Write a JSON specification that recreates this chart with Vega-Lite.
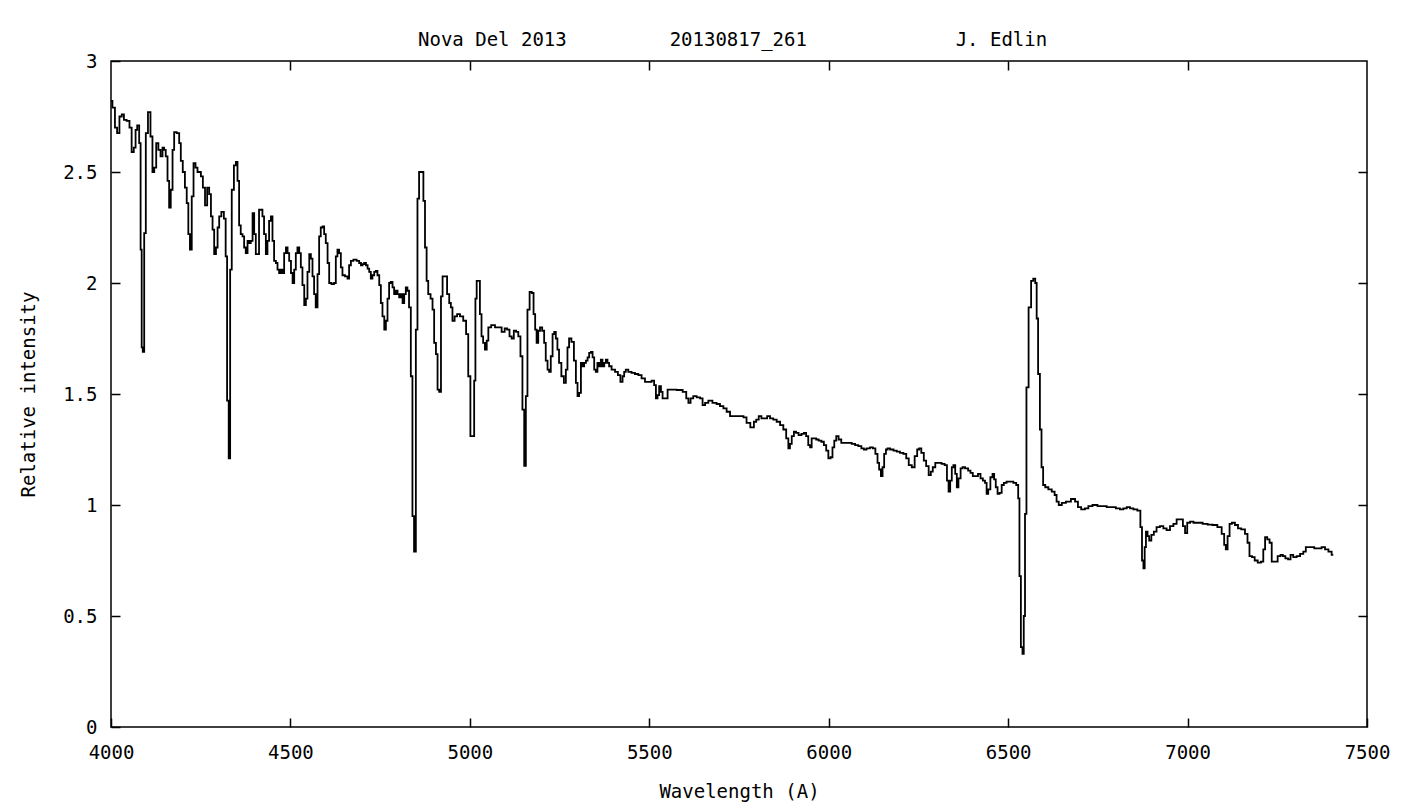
{
  "$schema": "https://vega.github.io/schema/vega-lite/v6.json",
  "width": 1256,
  "height": 666,
  "autosize": {"type": "none"},
  "padding": {"left": 111, "top": 61, "right": 35, "bottom": 81},
  "background": "white",
  "title": {
    "text": "Nova Del 2013\u00a0\u00a0\u00a0\u00a0\u00a0\u00a0\u00a0\u00a0\u00a020130817_261\u00a0\u00a0\u00a0\u00a0\u00a0\u00a0\u00a0\u00a0\u00a0\u00a0\u00a0\u00a0\u00a0J. Edlin",
    "anchor": "start",
    "frame": "group",
    "dx": 307,
    "offset": 2,
    "font": "DejaVu Sans Mono",
    "fontSize": 19,
    "fontWeight": "normal",
    "color": "#000"
  },
  "data": {
    "values": [
      {"wavelength": 4000, "intensity": 2.82}, {"wavelength": 4008, "intensity": 2.79}, {"wavelength": 4014, "intensity": 2.70}, {"wavelength": 4020, "intensity": 2.675},
      {"wavelength": 4027, "intensity": 2.75}, {"wavelength": 4033, "intensity": 2.76}, {"wavelength": 4039, "intensity": 2.735}, {"wavelength": 4048, "intensity": 2.73},
      {"wavelength": 4055, "intensity": 2.70}, {"wavelength": 4060, "intensity": 2.59}, {"wavelength": 4067, "intensity": 2.61}, {"wavelength": 4070, "intensity": 2.69},
      {"wavelength": 4076, "intensity": 2.71}, {"wavelength": 4081, "intensity": 2.63}, {"wavelength": 4084, "intensity": 2.15}, {"wavelength": 4087, "intensity": 1.71},
      {"wavelength": 4090, "intensity": 1.69}, {"wavelength": 4095, "intensity": 2.225}, {"wavelength": 4099, "intensity": 2.675}, {"wavelength": 4107, "intensity": 2.77},
      {"wavelength": 4113, "intensity": 2.66}, {"wavelength": 4118, "intensity": 2.50}, {"wavelength": 4123, "intensity": 2.52}, {"wavelength": 4129, "intensity": 2.63},
      {"wavelength": 4135, "intensity": 2.60}, {"wavelength": 4141, "intensity": 2.57}, {"wavelength": 4146, "intensity": 2.61}, {"wavelength": 4150, "intensity": 2.60},
      {"wavelength": 4155, "intensity": 2.57}, {"wavelength": 4160, "intensity": 2.46}, {"wavelength": 4164, "intensity": 2.34}, {"wavelength": 4169, "intensity": 2.42},
      {"wavelength": 4174, "intensity": 2.60}, {"wavelength": 4178, "intensity": 2.68}, {"wavelength": 4188, "intensity": 2.675}, {"wavelength": 4192, "intensity": 2.63},
      {"wavelength": 4197, "intensity": 2.55}, {"wavelength": 4203, "intensity": 2.50}, {"wavelength": 4209, "intensity": 2.43}, {"wavelength": 4213, "intensity": 2.36},
      {"wavelength": 4218, "intensity": 2.22}, {"wavelength": 4222, "intensity": 2.15}, {"wavelength": 4228, "intensity": 2.39}, {"wavelength": 4232, "intensity": 2.54},
      {"wavelength": 4239, "intensity": 2.52}, {"wavelength": 4243, "intensity": 2.50}, {"wavelength": 4248, "intensity": 2.50}, {"wavelength": 4253, "intensity": 2.48},
      {"wavelength": 4259, "intensity": 2.43}, {"wavelength": 4265, "intensity": 2.35}, {"wavelength": 4271, "intensity": 2.43}, {"wavelength": 4276, "intensity": 2.40},
      {"wavelength": 4281, "intensity": 2.30}, {"wavelength": 4285, "intensity": 2.24}, {"wavelength": 4290, "intensity": 2.13}, {"wavelength": 4295, "intensity": 2.16},
      {"wavelength": 4299, "intensity": 2.25}, {"wavelength": 4304, "intensity": 2.30}, {"wavelength": 4311, "intensity": 2.32}, {"wavelength": 4318, "intensity": 2.29},
      {"wavelength": 4321, "intensity": 2.12}, {"wavelength": 4326, "intensity": 1.47}, {"wavelength": 4330, "intensity": 1.21}, {"wavelength": 4334, "intensity": 2.06},
      {"wavelength": 4339, "intensity": 2.42}, {"wavelength": 4346, "intensity": 2.53}, {"wavelength": 4350, "intensity": 2.546}, {"wavelength": 4355, "intensity": 2.46},
      {"wavelength": 4359, "intensity": 2.26}, {"wavelength": 4364, "intensity": 2.22}, {"wavelength": 4369, "intensity": 2.21}, {"wavelength": 4373, "intensity": 2.16},
      {"wavelength": 4378, "intensity": 2.135}, {"wavelength": 4383, "intensity": 2.19}, {"wavelength": 4387, "intensity": 2.18}, {"wavelength": 4392, "intensity": 2.19},
      {"wavelength": 4397, "intensity": 2.315}, {"wavelength": 4401, "intensity": 2.22}, {"wavelength": 4406, "intensity": 2.13}, {"wavelength": 4410, "intensity": 2.13},
      {"wavelength": 4415, "intensity": 2.33}, {"wavelength": 4420, "intensity": 2.33}, {"wavelength": 4424, "intensity": 2.30}, {"wavelength": 4429, "intensity": 2.22},
      {"wavelength": 4434, "intensity": 2.13}, {"wavelength": 4438, "intensity": 2.19}, {"wavelength": 4443, "intensity": 2.28}, {"wavelength": 4448, "intensity": 2.30},
      {"wavelength": 4452, "intensity": 2.19}, {"wavelength": 4457, "intensity": 2.10}, {"wavelength": 4462, "intensity": 2.09}, {"wavelength": 4466, "intensity": 2.06},
      {"wavelength": 4471, "intensity": 2.045}, {"wavelength": 4476, "intensity": 2.06}, {"wavelength": 4480, "intensity": 2.045}, {"wavelength": 4485, "intensity": 2.135},
      {"wavelength": 4490, "intensity": 2.16}, {"wavelength": 4494, "intensity": 2.135}, {"wavelength": 4499, "intensity": 2.10}, {"wavelength": 4504, "intensity": 2.045},
      {"wavelength": 4508, "intensity": 2.00}, {"wavelength": 4513, "intensity": 2.06}, {"wavelength": 4517, "intensity": 2.135}, {"wavelength": 4522, "intensity": 2.16},
      {"wavelength": 4527, "intensity": 2.135}, {"wavelength": 4531, "intensity": 2.07}, {"wavelength": 4536, "intensity": 1.99}, {"wavelength": 4541, "intensity": 1.90},
      {"wavelength": 4545, "intensity": 1.93}, {"wavelength": 4550, "intensity": 2.05}, {"wavelength": 4555, "intensity": 2.13}, {"wavelength": 4559, "intensity": 2.11},
      {"wavelength": 4564, "intensity": 2.03}, {"wavelength": 4568, "intensity": 1.95}, {"wavelength": 4573, "intensity": 1.89}, {"wavelength": 4578, "intensity": 2.04},
      {"wavelength": 4582, "intensity": 2.21}, {"wavelength": 4587, "intensity": 2.25}, {"wavelength": 4592, "intensity": 2.255}, {"wavelength": 4596, "intensity": 2.22},
      {"wavelength": 4601, "intensity": 2.18}, {"wavelength": 4606, "intensity": 2.09}, {"wavelength": 4610, "intensity": 2.00}, {"wavelength": 4619, "intensity": 1.995},
      {"wavelength": 4624, "intensity": 2.00}, {"wavelength": 4629, "intensity": 2.12}, {"wavelength": 4633, "intensity": 2.15}, {"wavelength": 4638, "intensity": 2.135},
      {"wavelength": 4643, "intensity": 2.07}, {"wavelength": 4647, "intensity": 2.035}, {"wavelength": 4657, "intensity": 2.03}, {"wavelength": 4661, "intensity": 2.02},
      {"wavelength": 4666, "intensity": 2.08}, {"wavelength": 4671, "intensity": 2.10}, {"wavelength": 4680, "intensity": 2.105}, {"wavelength": 4689, "intensity": 2.10},
      {"wavelength": 4694, "intensity": 2.09}, {"wavelength": 4699, "intensity": 2.08}, {"wavelength": 4703, "intensity": 2.085}, {"wavelength": 4708, "intensity": 2.09},
      {"wavelength": 4713, "intensity": 2.08}, {"wavelength": 4717, "intensity": 2.065}, {"wavelength": 4722, "intensity": 2.05}, {"wavelength": 4726, "intensity": 2.02},
      {"wavelength": 4731, "intensity": 2.035}, {"wavelength": 4736, "intensity": 2.05}, {"wavelength": 4740, "intensity": 2.055}, {"wavelength": 4745, "intensity": 2.035},
      {"wavelength": 4750, "intensity": 1.99}, {"wavelength": 4754, "intensity": 1.91}, {"wavelength": 4759, "intensity": 1.85}, {"wavelength": 4764, "intensity": 1.79},
      {"wavelength": 4768, "intensity": 1.83}, {"wavelength": 4773, "intensity": 1.93}, {"wavelength": 4777, "intensity": 2.00}, {"wavelength": 4782, "intensity": 2.005},
      {"wavelength": 4787, "intensity": 1.98}, {"wavelength": 4791, "intensity": 1.95}, {"wavelength": 4796, "intensity": 1.965}, {"wavelength": 4801, "intensity": 1.95},
      {"wavelength": 4805, "intensity": 1.935}, {"wavelength": 4810, "intensity": 1.95}, {"wavelength": 4815, "intensity": 1.91}, {"wavelength": 4819, "intensity": 1.95},
      {"wavelength": 4824, "intensity": 1.98}, {"wavelength": 4828, "intensity": 1.965}, {"wavelength": 4833, "intensity": 1.89}, {"wavelength": 4838, "intensity": 1.58},
      {"wavelength": 4842, "intensity": 0.95}, {"wavelength": 4847, "intensity": 0.79}, {"wavelength": 4852, "intensity": 1.79}, {"wavelength": 4856, "intensity": 2.38},
      {"wavelength": 4861, "intensity": 2.50}, {"wavelength": 4869, "intensity": 2.50}, {"wavelength": 4872, "intensity": 2.37}, {"wavelength": 4878, "intensity": 2.16},
      {"wavelength": 4881, "intensity": 2.01}, {"wavelength": 4887, "intensity": 1.95}, {"wavelength": 4894, "intensity": 1.93}, {"wavelength": 4898, "intensity": 1.88},
      {"wavelength": 4903, "intensity": 1.73}, {"wavelength": 4908, "intensity": 1.68}, {"wavelength": 4912, "intensity": 1.52}, {"wavelength": 4917, "intensity": 1.51},
      {"wavelength": 4922, "intensity": 1.94}, {"wavelength": 4926, "intensity": 2.03}, {"wavelength": 4933, "intensity": 2.03}, {"wavelength": 4940, "intensity": 1.95},
      {"wavelength": 4945, "intensity": 1.91}, {"wavelength": 4949, "intensity": 1.89}, {"wavelength": 4954, "intensity": 1.83}, {"wavelength": 4961, "intensity": 1.85},
      {"wavelength": 4968, "intensity": 1.86}, {"wavelength": 4977, "intensity": 1.85}, {"wavelength": 4986, "intensity": 1.83}, {"wavelength": 4993, "intensity": 1.77},
      {"wavelength": 4998, "intensity": 1.58}, {"wavelength": 5005, "intensity": 1.31}, {"wavelength": 5010, "intensity": 1.31}, {"wavelength": 5014, "intensity": 1.56},
      {"wavelength": 5017, "intensity": 1.93}, {"wavelength": 5021, "intensity": 2.01}, {"wavelength": 5026, "intensity": 2.01}, {"wavelength": 5030, "intensity": 1.86},
      {"wavelength": 5035, "intensity": 1.76}, {"wavelength": 5039, "intensity": 1.73}, {"wavelength": 5045, "intensity": 1.70}, {"wavelength": 5049, "intensity": 1.74},
      {"wavelength": 5054, "intensity": 1.80}, {"wavelength": 5065, "intensity": 1.81}, {"wavelength": 5075, "intensity": 1.80}, {"wavelength": 5084, "intensity": 1.80},
      {"wavelength": 5093, "intensity": 1.78}, {"wavelength": 5101, "intensity": 1.795}, {"wavelength": 5107, "intensity": 1.79}, {"wavelength": 5114, "intensity": 1.76},
      {"wavelength": 5119, "intensity": 1.75}, {"wavelength": 5126, "intensity": 1.785}, {"wavelength": 5132, "intensity": 1.78}, {"wavelength": 5138, "intensity": 1.76},
      {"wavelength": 5144, "intensity": 1.67}, {"wavelength": 5149, "intensity": 1.43}, {"wavelength": 5154, "intensity": 1.176}, {"wavelength": 5158, "intensity": 1.49},
      {"wavelength": 5163, "intensity": 1.88}, {"wavelength": 5170, "intensity": 1.96}, {"wavelength": 5175, "intensity": 1.955}, {"wavelength": 5180, "intensity": 1.86},
      {"wavelength": 5184, "intensity": 1.79}, {"wavelength": 5188, "intensity": 1.73}, {"wavelength": 5193, "intensity": 1.785}, {"wavelength": 5198, "intensity": 1.80},
      {"wavelength": 5205, "intensity": 1.785}, {"wavelength": 5209, "intensity": 1.73}, {"wavelength": 5214, "intensity": 1.65}, {"wavelength": 5219, "intensity": 1.61},
      {"wavelength": 5223, "intensity": 1.60}, {"wavelength": 5228, "intensity": 1.67}, {"wavelength": 5233, "intensity": 1.77}, {"wavelength": 5237, "intensity": 1.78},
      {"wavelength": 5242, "intensity": 1.75}, {"wavelength": 5246, "intensity": 1.70}, {"wavelength": 5251, "intensity": 1.64}, {"wavelength": 5259, "intensity": 1.58},
      {"wavelength": 5265, "intensity": 1.55}, {"wavelength": 5270, "intensity": 1.61}, {"wavelength": 5274, "intensity": 1.71}, {"wavelength": 5279, "intensity": 1.75},
      {"wavelength": 5287, "intensity": 1.735}, {"wavelength": 5293, "intensity": 1.65}, {"wavelength": 5298, "intensity": 1.55}, {"wavelength": 5302, "intensity": 1.49},
      {"wavelength": 5307, "intensity": 1.505}, {"wavelength": 5312, "intensity": 1.64}, {"wavelength": 5316, "intensity": 1.625}, {"wavelength": 5321, "intensity": 1.64},
      {"wavelength": 5326, "intensity": 1.65}, {"wavelength": 5330, "intensity": 1.665}, {"wavelength": 5335, "intensity": 1.685}, {"wavelength": 5340, "intensity": 1.69},
      {"wavelength": 5344, "intensity": 1.665}, {"wavelength": 5349, "intensity": 1.61}, {"wavelength": 5353, "intensity": 1.60}, {"wavelength": 5358, "intensity": 1.64},
      {"wavelength": 5363, "intensity": 1.625}, {"wavelength": 5367, "intensity": 1.655}, {"wavelength": 5372, "intensity": 1.625}, {"wavelength": 5377, "intensity": 1.64},
      {"wavelength": 5381, "intensity": 1.655}, {"wavelength": 5386, "intensity": 1.64}, {"wavelength": 5390, "intensity": 1.625}, {"wavelength": 5400, "intensity": 1.61},
      {"wavelength": 5409, "intensity": 1.60}, {"wavelength": 5416, "intensity": 1.585}, {"wavelength": 5423, "intensity": 1.555}, {"wavelength": 5428, "intensity": 1.58},
      {"wavelength": 5432, "intensity": 1.60}, {"wavelength": 5437, "intensity": 1.61}, {"wavelength": 5446, "intensity": 1.60}, {"wavelength": 5455, "intensity": 1.595},
      {"wavelength": 5465, "intensity": 1.59}, {"wavelength": 5474, "intensity": 1.585}, {"wavelength": 5483, "intensity": 1.57}, {"wavelength": 5493, "intensity": 1.555},
      {"wavelength": 5502, "intensity": 1.555}, {"wavelength": 5511, "intensity": 1.56}, {"wavelength": 5516, "intensity": 1.54}, {"wavelength": 5521, "intensity": 1.48},
      {"wavelength": 5525, "intensity": 1.495}, {"wavelength": 5530, "intensity": 1.535}, {"wavelength": 5535, "intensity": 1.51}, {"wavelength": 5539, "intensity": 1.48},
      {"wavelength": 5544, "intensity": 1.48}, {"wavelength": 5558, "intensity": 1.52}, {"wavelength": 5567, "intensity": 1.52}, {"wavelength": 5586, "intensity": 1.518},
      {"wavelength": 5600, "intensity": 1.51}, {"wavelength": 5606, "intensity": 1.48}, {"wavelength": 5612, "intensity": 1.46}, {"wavelength": 5618, "intensity": 1.48},
      {"wavelength": 5627, "intensity": 1.49}, {"wavelength": 5637, "intensity": 1.485}, {"wavelength": 5646, "intensity": 1.48}, {"wavelength": 5651, "intensity": 1.45},
      {"wavelength": 5660, "intensity": 1.46}, {"wavelength": 5669, "intensity": 1.47}, {"wavelength": 5683, "intensity": 1.46}, {"wavelength": 5692, "intensity": 1.455},
      {"wavelength": 5702, "intensity": 1.445}, {"wavelength": 5711, "intensity": 1.435}, {"wavelength": 5720, "intensity": 1.42}, {"wavelength": 5730, "intensity": 1.40},
      {"wavelength": 5739, "intensity": 1.40}, {"wavelength": 5758, "intensity": 1.40}, {"wavelength": 5767, "intensity": 1.395}, {"wavelength": 5775, "intensity": 1.37},
      {"wavelength": 5788, "intensity": 1.35}, {"wavelength": 5795, "intensity": 1.375}, {"wavelength": 5801, "intensity": 1.385}, {"wavelength": 5809, "intensity": 1.40},
      {"wavelength": 5816, "intensity": 1.39}, {"wavelength": 5825, "intensity": 1.39}, {"wavelength": 5832, "intensity": 1.40}, {"wavelength": 5841, "intensity": 1.39},
      {"wavelength": 5850, "intensity": 1.385}, {"wavelength": 5860, "intensity": 1.375}, {"wavelength": 5869, "intensity": 1.36}, {"wavelength": 5878, "intensity": 1.34},
      {"wavelength": 5885, "intensity": 1.30}, {"wavelength": 5890, "intensity": 1.255}, {"wavelength": 5894, "intensity": 1.275}, {"wavelength": 5900, "intensity": 1.31},
      {"wavelength": 5906, "intensity": 1.33}, {"wavelength": 5912, "intensity": 1.325}, {"wavelength": 5920, "intensity": 1.315}, {"wavelength": 5928, "intensity": 1.32},
      {"wavelength": 5934, "intensity": 1.325}, {"wavelength": 5940, "intensity": 1.31}, {"wavelength": 5946, "intensity": 1.27}, {"wavelength": 5950, "intensity": 1.26},
      {"wavelength": 5955, "intensity": 1.30}, {"wavelength": 5962, "intensity": 1.30}, {"wavelength": 5968, "intensity": 1.295}, {"wavelength": 5976, "intensity": 1.29},
      {"wavelength": 5983, "intensity": 1.285}, {"wavelength": 5990, "intensity": 1.27}, {"wavelength": 5996, "intensity": 1.245}, {"wavelength": 6002, "intensity": 1.21},
      {"wavelength": 6008, "intensity": 1.215}, {"wavelength": 6013, "intensity": 1.26}, {"wavelength": 6018, "intensity": 1.29}, {"wavelength": 6024, "intensity": 1.31},
      {"wavelength": 6031, "intensity": 1.295}, {"wavelength": 6039, "intensity": 1.28}, {"wavelength": 6048, "intensity": 1.28}, {"wavelength": 6059, "intensity": 1.28},
      {"wavelength": 6069, "intensity": 1.275}, {"wavelength": 6078, "intensity": 1.27}, {"wavelength": 6087, "intensity": 1.265}, {"wavelength": 6095, "intensity": 1.255},
      {"wavelength": 6101, "intensity": 1.25}, {"wavelength": 6110, "intensity": 1.255}, {"wavelength": 6120, "intensity": 1.26}, {"wavelength": 6126, "intensity": 1.255},
      {"wavelength": 6134, "intensity": 1.23}, {"wavelength": 6138, "intensity": 1.19}, {"wavelength": 6143, "intensity": 1.16}, {"wavelength": 6148, "intensity": 1.13},
      {"wavelength": 6152, "intensity": 1.17}, {"wavelength": 6157, "intensity": 1.23}, {"wavelength": 6162, "intensity": 1.25}, {"wavelength": 6166, "intensity": 1.255},
      {"wavelength": 6176, "intensity": 1.25}, {"wavelength": 6185, "intensity": 1.245}, {"wavelength": 6194, "intensity": 1.24}, {"wavelength": 6203, "intensity": 1.235},
      {"wavelength": 6213, "intensity": 1.23}, {"wavelength": 6219, "intensity": 1.21}, {"wavelength": 6227, "intensity": 1.18}, {"wavelength": 6236, "intensity": 1.17},
      {"wavelength": 6243, "intensity": 1.22}, {"wavelength": 6250, "intensity": 1.25}, {"wavelength": 6254, "intensity": 1.255}, {"wavelength": 6262, "intensity": 1.235},
      {"wavelength": 6268, "intensity": 1.20}, {"wavelength": 6275, "intensity": 1.175}, {"wavelength": 6282, "intensity": 1.135}, {"wavelength": 6287, "intensity": 1.15},
      {"wavelength": 6293, "intensity": 1.17}, {"wavelength": 6301, "intensity": 1.19}, {"wavelength": 6310, "intensity": 1.19}, {"wavelength": 6319, "intensity": 1.185},
      {"wavelength": 6327, "intensity": 1.18}, {"wavelength": 6332, "intensity": 1.11}, {"wavelength": 6336, "intensity": 1.06}, {"wavelength": 6341, "intensity": 1.11},
      {"wavelength": 6345, "intensity": 1.17}, {"wavelength": 6350, "intensity": 1.18}, {"wavelength": 6355, "intensity": 1.14}, {"wavelength": 6359, "intensity": 1.08},
      {"wavelength": 6364, "intensity": 1.12}, {"wavelength": 6371, "intensity": 1.165}, {"wavelength": 6375, "intensity": 1.17}, {"wavelength": 6385, "intensity": 1.165},
      {"wavelength": 6392, "intensity": 1.155}, {"wavelength": 6398, "intensity": 1.145}, {"wavelength": 6405, "intensity": 1.13}, {"wavelength": 6412, "intensity": 1.13},
      {"wavelength": 6420, "intensity": 1.14}, {"wavelength": 6426, "intensity": 1.12}, {"wavelength": 6433, "intensity": 1.11}, {"wavelength": 6438, "intensity": 1.10},
      {"wavelength": 6442, "intensity": 1.05}, {"wavelength": 6447, "intensity": 1.07}, {"wavelength": 6454, "intensity": 1.125}, {"wavelength": 6459, "intensity": 1.14},
      {"wavelength": 6463, "intensity": 1.115}, {"wavelength": 6468, "intensity": 1.08}, {"wavelength": 6473, "intensity": 1.05}, {"wavelength": 6479, "intensity": 1.055},
      {"wavelength": 6485, "intensity": 1.09}, {"wavelength": 6491, "intensity": 1.10}, {"wavelength": 6500, "intensity": 1.105}, {"wavelength": 6510, "intensity": 1.105},
      {"wavelength": 6519, "intensity": 1.10}, {"wavelength": 6526, "intensity": 1.09}, {"wavelength": 6530, "intensity": 1.03}, {"wavelength": 6533, "intensity": 0.68},
      {"wavelength": 6538, "intensity": 0.36}, {"wavelength": 6542, "intensity": 0.33}, {"wavelength": 6545, "intensity": 0.50}, {"wavelength": 6549, "intensity": 0.96},
      {"wavelength": 6553, "intensity": 1.53}, {"wavelength": 6561, "intensity": 1.89}, {"wavelength": 6567, "intensity": 2.01}, {"wavelength": 6573, "intensity": 2.02},
      {"wavelength": 6578, "intensity": 2.00}, {"wavelength": 6581, "intensity": 1.84}, {"wavelength": 6586, "intensity": 1.59}, {"wavelength": 6591, "intensity": 1.34},
      {"wavelength": 6595, "intensity": 1.17}, {"wavelength": 6600, "intensity": 1.09}, {"wavelength": 6607, "intensity": 1.08}, {"wavelength": 6617, "intensity": 1.07},
      {"wavelength": 6626, "intensity": 1.06}, {"wavelength": 6633, "intensity": 1.045}, {"wavelength": 6637, "intensity": 1.015}, {"wavelength": 6645, "intensity": 1.00},
      {"wavelength": 6654, "intensity": 1.01}, {"wavelength": 6668, "intensity": 1.015}, {"wavelength": 6682, "intensity": 1.027}, {"wavelength": 6691, "intensity": 1.015},
      {"wavelength": 6698, "intensity": 0.99}, {"wavelength": 6709, "intensity": 0.98}, {"wavelength": 6719, "intensity": 0.985}, {"wavelength": 6728, "intensity": 0.995},
      {"wavelength": 6742, "intensity": 1.0}, {"wavelength": 6756, "intensity": 0.995}, {"wavelength": 6770, "intensity": 0.995}, {"wavelength": 6779, "intensity": 0.99},
      {"wavelength": 6793, "intensity": 0.99}, {"wavelength": 6807, "intensity": 0.985}, {"wavelength": 6816, "intensity": 0.98}, {"wavelength": 6826, "intensity": 0.985},
      {"wavelength": 6835, "intensity": 0.99}, {"wavelength": 6844, "intensity": 0.985}, {"wavelength": 6854, "intensity": 0.98}, {"wavelength": 6866, "intensity": 0.975},
      {"wavelength": 6871, "intensity": 0.90}, {"wavelength": 6875, "intensity": 0.75}, {"wavelength": 6879, "intensity": 0.715}, {"wavelength": 6882, "intensity": 0.81},
      {"wavelength": 6886, "intensity": 0.88}, {"wavelength": 6891, "intensity": 0.86}, {"wavelength": 6895, "intensity": 0.84}, {"wavelength": 6903, "intensity": 0.865},
      {"wavelength": 6909, "intensity": 0.88}, {"wavelength": 6918, "intensity": 0.90}, {"wavelength": 6928, "intensity": 0.905}, {"wavelength": 6937, "intensity": 0.895},
      {"wavelength": 6946, "intensity": 0.887}, {"wavelength": 6956, "intensity": 0.905}, {"wavelength": 6965, "intensity": 0.915}, {"wavelength": 6974, "intensity": 0.935},
      {"wavelength": 6984, "intensity": 0.935}, {"wavelength": 6990, "intensity": 0.905}, {"wavelength": 6996, "intensity": 0.873}, {"wavelength": 7002, "intensity": 0.92},
      {"wavelength": 7012, "intensity": 0.925}, {"wavelength": 7021, "intensity": 0.92}, {"wavelength": 7035, "intensity": 0.92}, {"wavelength": 7049, "intensity": 0.915},
      {"wavelength": 7063, "intensity": 0.912}, {"wavelength": 7076, "intensity": 0.91}, {"wavelength": 7090, "intensity": 0.90}, {"wavelength": 7100, "intensity": 0.87},
      {"wavelength": 7104, "intensity": 0.82}, {"wavelength": 7109, "intensity": 0.80}, {"wavelength": 7114, "intensity": 0.86}, {"wavelength": 7120, "intensity": 0.915},
      {"wavelength": 7127, "intensity": 0.92}, {"wavelength": 7137, "intensity": 0.91}, {"wavelength": 7144, "intensity": 0.895}, {"wavelength": 7155, "intensity": 0.89},
      {"wavelength": 7165, "intensity": 0.87}, {"wavelength": 7169, "intensity": 0.83}, {"wavelength": 7176, "intensity": 0.77}, {"wavelength": 7183, "intensity": 0.765},
      {"wavelength": 7191, "intensity": 0.75}, {"wavelength": 7200, "intensity": 0.74}, {"wavelength": 7209, "intensity": 0.745}, {"wavelength": 7213, "intensity": 0.80},
      {"wavelength": 7219, "intensity": 0.855}, {"wavelength": 7225, "intensity": 0.845}, {"wavelength": 7232, "intensity": 0.83}, {"wavelength": 7237, "intensity": 0.745},
      {"wavelength": 7246, "intensity": 0.745}, {"wavelength": 7256, "intensity": 0.77}, {"wavelength": 7262, "intensity": 0.775}, {"wavelength": 7269, "intensity": 0.77},
      {"wavelength": 7276, "intensity": 0.76}, {"wavelength": 7284, "intensity": 0.755}, {"wavelength": 7290, "intensity": 0.775}, {"wavelength": 7299, "intensity": 0.765},
      {"wavelength": 7309, "intensity": 0.77}, {"wavelength": 7318, "intensity": 0.78}, {"wavelength": 7327, "intensity": 0.79}, {"wavelength": 7332, "intensity": 0.81},
      {"wavelength": 7346, "intensity": 0.81}, {"wavelength": 7360, "intensity": 0.805}, {"wavelength": 7369, "intensity": 0.805}, {"wavelength": 7378, "intensity": 0.81},
      {"wavelength": 7388, "intensity": 0.80}, {"wavelength": 7397, "intensity": 0.79}, {"wavelength": 7406, "intensity": 0.775}
    ]
  },
  "layer": [
    {
      "mark": {"type": "line", "interpolate": "step", "color": "#000", "strokeWidth": 1.8},
      "encoding": {
        "x": {
          "field": "wavelength", "type": "quantitative",
          "scale": {"domain": [4000, 7500], "nice": false, "zero": false},
          "axis": {"orient": "bottom", "values": [4000, 4500, 5000, 5500, 6000, 6500, 7000, 7500], "format": "d", "labelPadding": 25, "title": "Wavelength (A)", "titlePadding": 20}
        },
        "y": {
          "field": "intensity", "type": "quantitative",
          "scale": {"domain": [0, 3], "nice": false, "zero": true},
          "axis": {"orient": "left", "values": [0, 0.5, 1, 1.5, 2, 2.5, 3], "format": "~g", "labelPadding": 23, "title": "Relative intensity", "titlePadding": 24}
        }
      }
    },
    {
      "mark": {"type": "line", "opacity": 0},
      "encoding": {
        "x": {
          "field": "wavelength", "type": "quantitative",
          "axis": {"orient": "top", "values": [4500, 5000, 5500, 6000, 6500, 7000], "labels": false, "title": null}
        },
        "y": {
          "field": "intensity", "type": "quantitative",
          "axis": {"orient": "right", "values": [0.5, 1, 1.5, 2, 2.5], "labels": false, "title": null}
        }
      }
    }
  ],
  "resolve": {"axis": {"x": "independent", "y": "independent"}},
  "config": {
    "view": {"stroke": "#000", "strokeWidth": 1.5},
    "axis": {
      "domain": false,
      "grid": false,
      "tickColor": "#000",
      "tickWidth": 1.5,
      "tickSize": -9,
      "labelFlush": false,
      "labelOverlap": false,
      "labelFont": "DejaVu Sans Mono",
      "labelFontSize": 19,
      "labelColor": "#000",
      "titleFont": "DejaVu Sans Mono",
      "titleFontSize": 19,
      "titleFontWeight": "normal",
      "titleColor": "#000"
    }
  }
}
